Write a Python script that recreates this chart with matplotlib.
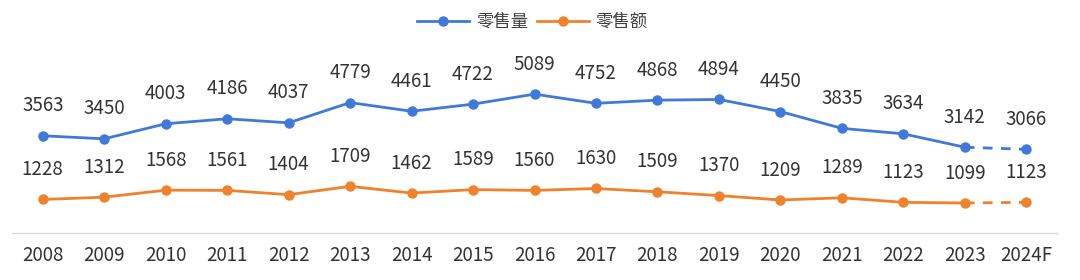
import matplotlib
matplotlib.use("Agg")
import matplotlib.pyplot as plt

plt.rcParams['font.family'] = ['Noto Sans CJK SC', 'DejaVu Sans']

years = ["2008", "2009", "2010", "2011", "2012", "2013", "2014", "2015", "2016",
         "2017", "2018", "2019", "2020", "2021", "2022", "2023", "2024F"]
volume = [3563, 3450, 4003, 4186, 4037, 4779, 4461, 4722, 5089,
          4752, 4868, 4894, 4450, 3835, 3634, 3142, 3066]   # 零售量
amount = [1228, 1312, 1568, 1561, 1404, 1709, 1462, 1589, 1560,
          1630, 1509, 1370, 1209, 1289, 1123, 1099, 1123]   # 零售额

BLUE = "#4179DB"
ORANGE = "#EF822C"

fig = plt.figure(figsize=(10.8, 2.8), dpi=100)
ax = fig.add_axes([12 / 1080, 0.168, 1045 / 1080, 0.682])

x = list(range(len(years)))

for vals, color, name in [(volume, BLUE, "零售量"), (amount, ORANGE, "零售额")]:
    # actual years solid, forecast segment dashed
    ax.plot(x[:-1], vals[:-1], color=color, lw=2, marker="o", ms=6.5, label=name)
    ax.plot(x[-2:], vals[-2:], color=color, lw=2, ls=(0, (3.5, 3)))
    ax.plot(x[-1], vals[-1], color=color, marker="o", ms=6.5, ls="none")
    for xi, v in zip(x, vals):
        ax.annotate(f"{v}", (xi, v), xytext=(0, 21.5), textcoords="offset points",
                    ha="center", va="center", fontsize=13.5, color="#333333")

ax.set_xlim(-0.5, len(years) - 0.5)
ax.set_ylim(0, 7000)
ax.set_xticks(x)
ax.set_xticklabels(years, fontsize=13.5, color="#333333")
ax.tick_params(axis="x", length=0, pad=9)
ax.set_yticks([])
for s in ["top", "right", "left"]:
    ax.spines[s].set_visible(False)
ax.spines["bottom"].set_color("#D9D9D9")
ax.spines["bottom"].set_linewidth(1)

fig.legend(loc="upper center", bbox_to_anchor=(0.493, 1.01), ncol=2, frameon=False,
           fontsize=12.5, handlelength=3, columnspacing=0.5, handletextpad=0.4,
           labelcolor="#404040")

fig.savefig("out.png", dpi=100, facecolor="white")
